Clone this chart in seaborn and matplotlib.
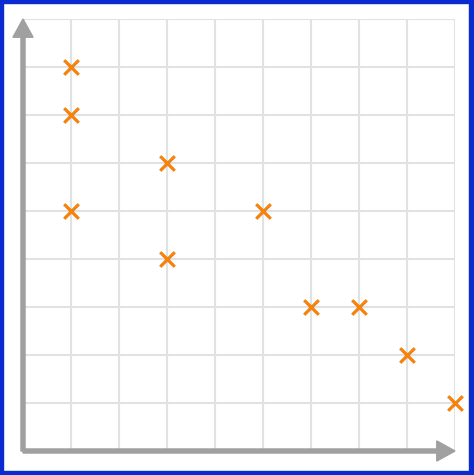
import matplotlib
matplotlib.use("Agg")
import matplotlib.pyplot as plt
from matplotlib.patches import Rectangle
import pandas as pd
import seaborn as sns

# data
x_vals = [1, 1, 1, 3, 3, 5, 6, 7, 8, 9]
y_vals = [8, 7, 5, 6, 4, 5, 3, 3, 2, 1]
grid_ticks = list(range(10))

df = pd.DataFrame({"x": x_vals, "y": y_vals})

sns.set_theme(style="white")

W, H = 474, 475
fig = plt.figure(figsize=(W / 100, H / 100), dpi=100)
ax = fig.add_axes([23 / W, 24 / H, 432 / W, 432 / H])

ax.set_xlim(0, 9)
ax.set_ylim(0, 9)
ax.set_xticks(grid_ticks)
ax.set_yticks(grid_ticks)
ax.set_xticklabels([])
ax.set_yticklabels([])
ax.tick_params(length=0)
ax.grid(True, color="#e2e2e2", linewidth=1.5)
ax.set_axisbelow(True)
for s in ax.spines.values():
    s.set_visible(False)

# axes with arrow heads
axis_col = "#a0a0a0"
ax.arrow(0, 0, 9, 0, width=0.085, head_width=0.42, head_length=0.38,
         length_includes_head=True, color=axis_col, clip_on=False, zorder=3)
ax.arrow(0, 0, 0, 9, width=0.085, head_width=0.42, head_length=0.38,
         length_includes_head=True, color=axis_col, clip_on=False, zorder=3)

sns.scatterplot(data=df, x="x", y="y", marker="x", s=110, color="#f5810f",
                linewidth=2.3, ax=ax, clip_on=False, zorder=4)
ax.set_xlabel("")
ax.set_ylabel("")

# blue frame around the picture
blue = "#0a2bd0"
fig.add_artist(Rectangle((0, 0), 3 / W, 1, transform=fig.transFigure, color=blue))
fig.add_artist(Rectangle((0, 1 - 3 / H), 1, 3 / H, transform=fig.transFigure, color=blue))
fig.add_artist(Rectangle((1 - 5 / W, 0), 5 / W, 1, transform=fig.transFigure, color=blue))
fig.add_artist(Rectangle((0, 0), 1, 4 / H, transform=fig.transFigure, color=blue))

fig.savefig("out.png", dpi=100)
